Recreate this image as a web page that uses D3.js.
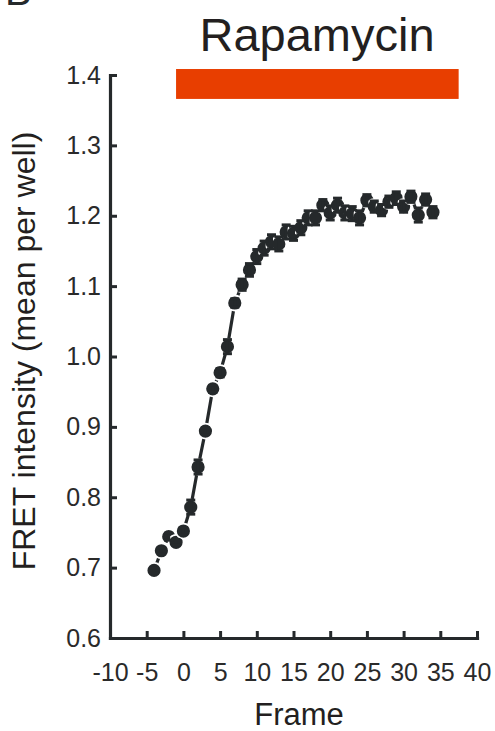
<!DOCTYPE html>
<html><head><meta charset="utf-8">
<script src="https://cdn.jsdelivr.net/npm/d3@7"></script>
<style>html,body{margin:0;padding:0;background:#fff;} svg{display:block;}</style>
</head><body><svg id="c" width="495" height="731"></svg>
<script>
// ---- data ----
const frames = [-4,-3,-2,-1,0,1,2,3,4,5,6,7,8,9,10,11,12,13,14,15,16,17,18,19,20,21,22,23,24,25,26,27,28,29,30,31,32,33,34];
const fret   = [0.696,0.724,0.744,0.736,0.752,0.786,0.843,0.894,0.954,0.977,1.014,1.076,1.102,1.123,1.142,1.154,1.163,1.160,1.177,1.175,1.183,1.197,1.197,1.215,1.204,1.215,1.204,1.203,1.197,1.222,1.213,1.208,1.220,1.225,1.213,1.227,1.201,1.223,1.205];
const sem    = [0.004,0.004,0.005,0.004,0.005,0.010,0.010,0.005,0.005,0.006,0.010,0.006,0.008,0.009,0.010,0.010,0.010,0.010,0.010,0.010,0.010,0.010,0.010,0.008,0.010,0.010,0.010,0.010,0.010,0.008,0.008,0.008,0.008,0.009,0.008,0.008,0.010,0.008,0.008];
const xTicks = [-10,-5,0,5,10,15,20,25,30,35,40];
const yTicks = [0.6,0.7,0.8,0.9,1.0,1.1,1.2,1.3,1.4];
const treatmentLabel = ["Rapamycin"];
const treatmentSpan = [-1, 37.5];      // frames
const treatmentBand = [1.366, 1.4085]; // FRET units
const xTitle = "Frame";
const yTitle = "FRET intensity (mean per well)";
const panelLabel = "B";

// ---- drawing ----
const ink = "#25292b";
const font = "'Liberation Sans', Arial, Helvetica, sans-serif";
const svg = d3.select("#c");
const x = d3.scaleLinear().domain([-10, 40]).range([110, 477]);
const y = d3.scaleLinear().domain([0.6, 1.4]).range([638, 75]);

// panel label (cut at top, as in the reference)
svg.append("text").attr("x", 5).attr("y", 5).text(panelLabel)
  .attr("font-family", font).attr("font-size", 40).attr("fill", ink);

// title
svg.append("text").attr("x", 317).attr("y", 51).attr("text-anchor", "middle")
  .attr("font-family", font).attr("font-size", 47).attr("fill", "#231f20").text(treatmentLabel[0]);

// treatment bar
svg.append("rect")
  .attr("x", x(treatmentSpan[0])).attr("width", x(treatmentSpan[1]) - x(treatmentSpan[0]))
  .attr("y", y(treatmentBand[1])).attr("height", y(treatmentBand[0]) - y(treatmentBand[1]))
  .attr("fill", "#e83e00");

// axes
const yAxis = svg.append("g").attr("transform", `translate(${x(-10)},0)`)
  .call(d3.axisLeft(y).tickValues(yTicks).tickFormat(d3.format(".1f")).tickSizeInner(-7).tickSizeOuter(0).tickPadding(9));
const xAxis = svg.append("g").attr("transform", `translate(0,${y(0.6)})`)
  .call(d3.axisBottom(x).tickValues(xTicks).tickFormat(d => String(d)).tickSizeInner(-7).tickSizeOuter(0).tickPadding(25));
[yAxis, xAxis].forEach(g => {
  g.select(".domain").attr("stroke", ink).attr("stroke-width", 3.2).attr("stroke-linecap", "square");
  g.selectAll(".tick line").attr("stroke", ink).attr("stroke-width", 3);
  g.selectAll(".tick text").attr("font-family", font).attr("font-size", 25).attr("fill", "#2a2a2a");
});
xAxis.selectAll(".tick").filter(d => d === -10).select("line").remove();

// axis titles
svg.append("text").attr("x", 299).attr("y", 725).attr("text-anchor", "middle")
  .attr("font-family", font).attr("font-size", 31).attr("fill", "#231f20").text(xTitle);
svg.append("text").attr("transform", `translate(35,351) rotate(-90)`).attr("text-anchor", "middle")
  .attr("font-family", font).attr("font-size", 32).attr("fill", "#231f20").text(yTitle);

// data
const data = frames.map((f, i) => ({f, v: fret[i], e: sem[i]}));
svg.append("path").datum(data)
  .attr("d", d3.line().x(d => x(d.f)).y(d => y(d.v)))
  .attr("fill", "none").attr("stroke", ink).attr("stroke-width", 3.2);
svg.append("g").selectAll("circle").data(data).join("circle")
  .attr("cx", d => x(d.f)).attr("cy", d => y(d.v)).attr("r", 7.5)
  .attr("fill", ink).attr("stroke", "#fff").attr("stroke-width", 1.8);
const eb = svg.append("g").attr("stroke", ink).attr("stroke-width", 3);
eb.selectAll("line.s").data(data).join("line").attr("class", "s")
  .attr("x1", d => x(d.f)).attr("x2", d => x(d.f))
  .attr("y1", d => y(d.v + d.e)).attr("y2", d => y(d.v - d.e));
eb.selectAll("line.t").data(data).join("line").attr("class", "t")
  .attr("x1", d => x(d.f) - 4.5).attr("x2", d => x(d.f) + 4.5)
  .attr("y1", d => y(d.v + d.e)).attr("y2", d => y(d.v + d.e));
eb.selectAll("line.b").data(data).join("line").attr("class", "b")
  .attr("x1", d => x(d.f) - 4.5).attr("x2", d => x(d.f) + 4.5)
  .attr("y1", d => y(d.v - d.e)).attr("y2", d => y(d.v - d.e));
</script></body></html>
